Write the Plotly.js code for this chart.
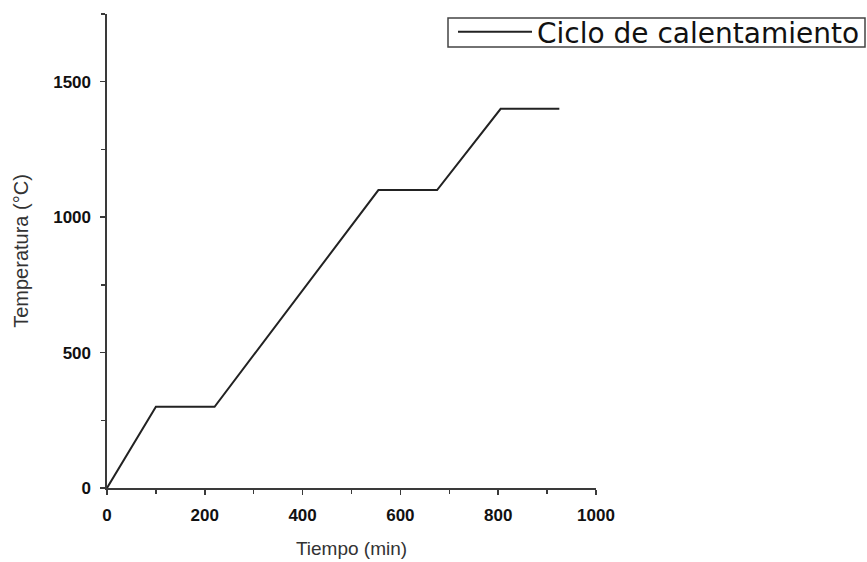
<!DOCTYPE html>
<html>
<head>
<meta charset="utf-8">
<script src="https://cdn.plot.ly/plotly-3.0.1.min.js"></script>
<style>html,body{margin:0;padding:0;background:#fff;}#chart{width:867px;height:562px;}</style>
</head>
<body>
<div id="chart"></div>
<script>
const tiempo = [0, 100, 220, 555, 675, 805, 925];
const temperatura = [0, 300, 300, 1100, 1100, 1400, 1400];
const seriesName = 'Ciclo de calentamiento';
const xTicks = [0, 200, 400, 600, 800, 1000];
const xMinor = [100, 300, 500, 700, 900];
const yTicks = [0, 500, 1000, 1500];
const yMinor = [250, 750, 1250, 1750];

const FONT = 'Liberation Sans, Arial, sans-serif';
const trace = {
  x: tiempo, y: temperatura, type: 'scatter', mode: 'lines', name: seriesName,
  line: {color: '#222', width: 2}, showlegend: true
};
const axisCommon = {
  showgrid: false, zeroline: false, showline: true, linecolor: '#3a3a3a', linewidth: 1.6,
  ticks: 'outside', ticklen: 5, tickwidth: 1.5, tickcolor: '#3a3a3a',
  tickfont: {family: FONT, size: 17, color: '#111', weight: 'bold'},
  ticklabelstandoff: 6, automargin: false
};
const minorCommon = {ticks: 'outside', ticklen: 4, tickwidth: 1.3, tickcolor: '#3a3a3a'};
const layout = {
  width: 867, height: 562,
  margin: {l: 107, r: 271, t: 14, b: 74, autoexpand: false},
  paper_bgcolor: '#fff', plot_bgcolor: '#fff',
  font: {family: FONT, color: '#333'},
  xaxis: Object.assign({}, axisCommon, {
    range: [0, 1000], tickmode: 'array', tickvals: xTicks, ticktext: xTicks.map(String),
    minor: Object.assign({}, minorCommon, {tickvals: xMinor}),
    title: {text: 'Tiempo (min)', font: {family: FONT, size: 19, color: '#333'}, standoff: 17}
  }),
  yaxis: Object.assign({}, axisCommon, {
    range: [0, 1750], tickmode: 'array', tickvals: yTicks, ticktext: yTicks.map(String),
    minor: Object.assign({}, minorCommon, {tickvals: yMinor}),
    title: {text: 'Temperatura (°C)', font: {family: FONT, size: 20, color: '#333'}, standoff: 19}
  }),
  legend: {
    x: (453 - 107) / 489, y: (488 - 7) / 474, xanchor: 'left', yanchor: 'top',
    borderwidth: 0, bgcolor: 'rgba(0,0,0,0)',
    font: {family: 'DejaVu Sans, sans-serif', size: 28, color: '#111'},
    itemwidth: 74
  },
  shapes: [{
    type: 'rect', xref: 'paper', yref: 'paper', layer: 'above',
    x0: (448 - 107) / 489, x1: (865 - 107) / 489,
    y0: (488 - 47) / 474, y1: (488 - 18) / 474,
    line: {color: '#444', width: 1.5}, fillcolor: 'rgba(0,0,0,0)'
  }],
  showlegend: true
};
Plotly.newPlot('chart', [trace], layout, {displayModeBar: false, staticPlot: true});
</script>
</body>
</html>
